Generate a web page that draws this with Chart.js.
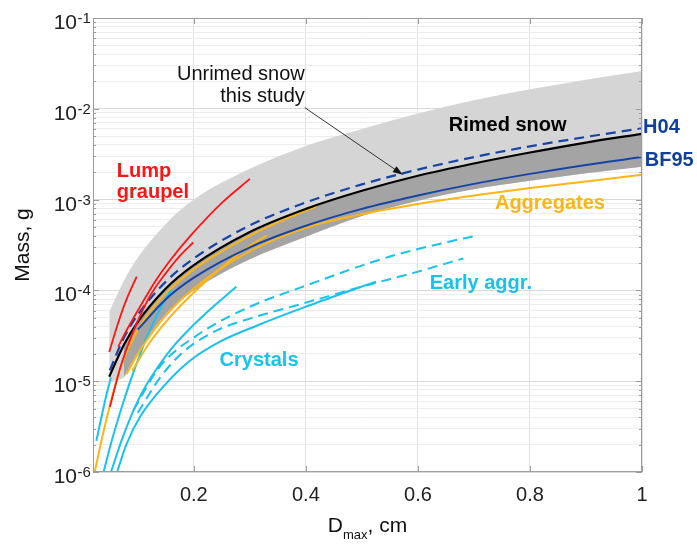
<!DOCTYPE html>
<html>
<head>
<meta charset="utf-8">
<script src="https://cdn.jsdelivr.net/npm/chart.js@4.4.0/dist/chart.umd.min.js"></script>
<style>
  html, body { margin: 0; padding: 0; background: #fff; }
</style>
</head>
<body>
<canvas id="grafico" width="697" height="545"></canvas>
<script>
// ------------------------------ Eixos ------------------------------
const eixoXTicks = [0.2, 0.4, 0.6, 0.8, 1];
const eixoYDecadas = [1e-6, 1e-5, 1e-4, 1e-3, 1e-2, 1e-1];
const eixoYMenores = [2, 3, 4, 5, 6, 7, 8, 9];

// ------------------------------ Dados ------------------------------
// faixa cinza clara
const dFaixa = [0.049, 0.075, 0.1, 0.15, 0.2, 0.3, 0.4, 0.5, 0.6, 0.7, 0.8, 0.9, 1.0];
const faixaSup = [5.8e-5, 1.27e-4, 2.3e-4, 5.4e-4, 1.0e-3, 2.18e-3, 3.9e-3, 6.0e-3, 8.9e-3, 0.0124, 0.0164, 0.0209, 0.026];
const faixaInf = [1.0e-5, 1.1e-5, 2.07e-5, 5.5e-5, 1.0e-4, 2.2e-4, 3.9e-4, 6.6e-4, 9.7e-4, 1.3e-3, 1.61e-3, 1.95e-3, 2.3e-3];

// faixa cinza escura
const dEscura = [0.075, 0.1, 0.15, 0.2, 0.3, 0.4, 0.5, 0.6, 0.7, 0.8, 0.9, 1.0];
const escuraSup = [2.4e-5, 4.4e-5, 1.03e-4, 1.87e-4, 4.35e-4, 7.8e-4, 1.23e-3, 1.8e-3, 2.47e-3, 3.26e-3, 4.2e-3, 5.25e-3];
const escuraInf = [1.1e-5, 2.07e-5, 5.5e-5, 1.0e-4, 2.2e-4, 3.9e-4, 6.6e-4, 9.7e-4, 1.3e-3, 1.61e-3, 1.95e-3, 2.3e-3];

// neve riminada (linha preta)
const dPreta = [0.049, 0.075, 0.1, 0.15, 0.2, 0.3, 0.4, 0.5, 0.6, 0.7, 0.8, 0.9, 1.0];
const mPreta = [1.12e-5, 2.5e-5, 4.5e-5, 1.05e-4, 1.9e-4, 4.4e-4, 7.9e-4, 1.25e-3, 1.83e-3, 2.5e-3, 3.3e-3, 4.25e-3, 5.3e-3];

// H04 (tracejada azul)
const dH04 = [0.05, 0.075, 0.1, 0.15, 0.2, 0.3, 0.4, 0.5, 0.6, 0.7, 0.8, 0.9, 1.0];
const mH04 = [1.32e-5, 3.0e-5, 5.4e-5, 1.25e-4, 2.25e-4, 5.2e-4, 9.3e-4, 1.47e-3, 2.14e-3, 2.94e-3, 3.86e-3, 4.9e-3, 6.1e-3];

// BF95 (azul)
const dBF95 = [0.1, 0.15, 0.2, 0.3, 0.4, 0.5, 0.6, 0.7, 0.8, 0.9, 1.0];
const mBF95 = [3.7e-5, 8.0e-5, 1.38e-4, 2.98e-4, 5.15e-4, 7.9e-4, 1.11e-3, 1.49e-3, 1.92e-3, 2.41e-3, 2.94e-3];

// agregados (laranja)
const dAgregA = [0.023, 0.038, 0.056, 0.068, 0.08, 0.109, 0.145, 0.193, 0.252, 0.3, 0.36, 0.42];
const mAgregA = [1.0e-6, 2.65e-6, 7.45e-6, 1.34e-5, 2.08e-5, 4.53e-5, 8.65e-5, 1.59e-4, 2.75e-4, 4.02e-4, 5.97e-4, 8.51e-4];
const dAgregB = [0.08, 0.1, 0.15, 0.2, 0.3, 0.4, 0.5, 0.6, 0.7, 0.8, 0.9, 1.0];
const mAgregB = [1.2e-5, 2.0e-5, 5.3e-5, 1.05e-4, 2.7e-4, 4.9e-4, 6.9e-4, 8.95e-4, 1.11e-3, 1.34e-3, 1.58e-3, 1.88e-3];
const dAgregC = [0.09, 0.12, 0.16, 0.2, 0.25, 0.3, 0.33];
const mAgregC = [1.3e-5, 2.6e-5, 5.3e-5, 9.5e-5, 1.8e-4, 3.1e-4, 4.0e-4];

// graupel (vermelho)
const dGraupelA = [0.049, 0.065, 0.08, 0.098];
const mGraupelA = [2.1e-5, 4.4e-5, 8.0e-5, 1.42e-4];
const dGraupelB = [0.05, 0.07, 0.09, 0.121, 0.15, 0.175, 0.199];
const mGraupelB = [5.2e-6, 1.5e-5, 3.3e-5, 8.5e-5, 1.55e-4, 2.4e-4, 3.37e-4];
const dGraupelC = [0.065, 0.074, 0.1, 0.133, 0.16, 0.193, 0.25, 0.3];
const mGraupelC = [2.4e-5, 3.1e-5, 6.0e-5, 1.31e-4, 2.23e-4, 3.93e-4, 9.2e-4, 1.69e-3];

// cristais (ciano)
const dCristalA = [0.026, 0.035, 0.045, 0.052];
const mCristalA = [2.2e-6, 4.0e-6, 7.5e-6, 1.1e-5];
const dCristalB = [0.039, 0.05, 0.062, 0.075, 0.086, 0.1, 0.12, 0.14, 0.16];
const mCristalB = [1e-6, 1.85e-6, 3.36e-6, 6.1e-6, 9.77e-6, 1.7e-5, 3.47e-5, 6.3e-5, 1.02e-4];
const dCristalC = [0.052, 0.074, 0.104, 0.133, 0.163, 0.2, 0.223, 0.25, 0.276];
const mCristalC = [1e-6, 2.5e-6, 6.8e-6, 1.35e-5, 2.4e-5, 4.2e-5, 5.7e-5, 8.0e-5, 1.1e-4];
const dCristalD = [0.063, 0.08, 0.104, 0.15, 0.193, 0.25, 0.312, 0.4, 0.49, 0.525];
const mCristalD = [1e-6, 2.04e-6, 4.05e-6, 9.35e-6, 1.68e-5, 2.79e-5, 4.08e-5, 6.62e-5, 1.05e-4, 1.25e-4];

// agregados iniciais (ciano tracejado)
const dIniciaisA = [0.092, 0.139, 0.211, 0.3, 0.395, 0.55, 0.657, 0.7];
const mIniciaisA = [4.8e-6, 1.44e-5, 3.37e-5, 6.6e-5, 1.1e-4, 2.36e-4, 3.46e-4, 3.95e-4];
const dIniciaisB = [0.1, 0.14, 0.181, 0.24, 0.3, 0.4, 0.5, 0.6, 0.681];
const mIniciaisB = [4.5e-6, 1.1e-5, 2.1e-5, 3.6e-5, 4.89e-5, 7.33e-5, 1.1e-4, 1.61e-4, 2.25e-4];

// ------------------------------ Cores ------------------------------
const corVermelho = '#ff1414';
const corCiano = '#17c2ec';
const corLaranja = '#fcb514';
const corAzul = '#1844a6';
const corAzulTexto = '#0f3f9f';

// rótulos: [texto, D, massa, cor, alinhamento, negrito]
const rotulos = [
  ['Lump', 0.0625, 1.79e-3, corVermelho, 'left', true],
  ['graupel', 0.0625, 1.05e-3, corVermelho, 'left', true],
  ['Unrimed snow', 0.398, 2.1e-2, '#111', 'right', false],
  ['this study', 0.398, 1.2e-2, '#111', 'right', false],
  ['Rimed snow', 0.655, 5.75e-3, '#000', 'left', true],
  ['H04', 1.002, 5.47e-3, corAzulTexto, 'left', true],
  ['BF95', 1.005, 2.37e-3, corAzulTexto, 'left', true],
  ['Aggregates', 0.7375, 7.94e-4, corLaranja, 'left', true],
  ['Early aggr.', 0.621, 1.04e-4, corCiano, 'left', true],
  ['Crystals', 0.246, 1.47e-5, corCiano, 'left', true]
];
// seta: início e fim em (D, massa)
const seta = [[0.398, 1.03e-2], [0.573, 1.88e-3]];

const fonte = "'Liberation Sans', Arial, sans-serif";

function pontos(xs, ys) {
  return xs.map((x, i) => ({ x: x, y: ys[i] }));
}

function linha(rotulo, xs, ys, cor, largura, tracejado, ordem) {
  return {
    label: rotulo,
    data: pontos(xs, ys),
    borderColor: cor,
    borderWidth: largura,
    borderDash: tracejado || [],
    pointRadius: 0,
    fill: false,
    cubicInterpolationMode: 'monotone',
    order: ordem
  };
}

function faixa(rotulo, xs, ys, cor, ordem) {
  return {
    label: rotulo,
    data: pontos(xs, ys),
    borderColor: 'rgba(0,0,0,0)',
    borderWidth: 0,
    pointRadius: 0,
    backgroundColor: cor,
    fill: cor ? '+1' : false,
    cubicInterpolationMode: 'monotone',
    order: ordem
  };
}

const tracejado = [10, 6];

const datasets = [
  faixa('faixa clara', dFaixa, faixaSup, '#d5d5d5', 40),
  faixa('faixa clara inf', dFaixa, faixaInf, null, 39),
  faixa('faixa escura', dEscura, escuraSup, '#a4a4a4', 38),
  faixa('faixa escura inf', dEscura, escuraInf, null, 37),
  linha('Cristal A', dCristalA, mCristalA, corCiano, 2, null, 20),
  linha('Cristal B', dCristalB, mCristalB, corCiano, 2, null, 20),
  linha('Cristal C', dCristalC, mCristalC, corCiano, 2, null, 20),
  linha('Cristal D', dCristalD, mCristalD, corCiano, 2, null, 20),
  linha('Early aggr. A', dIniciaisA, mIniciaisA, corCiano, 2, tracejado, 20),
  linha('Early aggr. B', dIniciaisB, mIniciaisB, corCiano, 2, tracejado, 20),
  linha('Agregados A', dAgregA, mAgregA, corLaranja, 2, null, 10),
  linha('Agregados B', dAgregB, mAgregB, corLaranja, 2, null, 10),
  linha('Agregados C', dAgregC, mAgregC, corLaranja, 2, null, 10),
  linha('BF95', dBF95, mBF95, corAzul, 2, null, 5),
  linha('H04', dH04, mH04, corAzul, 2.2, tracejado, 5),
  linha('Rimed snow', dPreta, mPreta, '#000', 2.2, null, 3),
  linha('Graupel A', dGraupelA, mGraupelA, corVermelho, 1.8, null, 2),
  linha('Graupel B', dGraupelB, mGraupelB, corVermelho, 1.8, null, 2),
  linha('Graupel C', dGraupelC, mGraupelC, corVermelho, 1.8, null, 2)
];

function ehDecada(v) {
  const l = Math.log10(v);
  return Math.abs(l - Math.round(l)) < 1e-9;
}

// moldura, marcas, rótulos do eixo y e anotações
const anotacoes = {
  id: 'anotacoes',
  afterDraw(chart) {
    const c = chart.ctx;
    const a = chart.chartArea;
    const sx = chart.scales.x;
    const sy = chart.scales.y;
    c.save();

    // moldura
    c.strokeStyle = '#9c9c9c';
    c.lineWidth = 1;
    c.strokeRect(a.left + 0.5, a.top + 0.5, a.right - a.left - 1, a.bottom - a.top - 1);

    // marcas internas
    c.beginPath();
    sy.ticks.forEach(t => {
      const y = Math.round(sy.getPixelForValue(t.value)) + 0.5;
      const len = ehDecada(t.value) ? 6 : 3;
      c.moveTo(a.left, y); c.lineTo(a.left + len, y);
      c.moveTo(a.right, y); c.lineTo(a.right - len, y);
    });
    sx.ticks.forEach(t => {
      const x = Math.round(sx.getPixelForValue(t.value)) + 0.5;
      c.moveTo(x, a.bottom); c.lineTo(x, a.bottom - 6);
      c.moveTo(x, a.top); c.lineTo(x, a.top + 6);
    });
    c.stroke();

    // rótulos do eixo y: 10 com expoente
    c.fillStyle = '#222';
    c.textBaseline = 'alphabetic';
    eixoYDecadas.forEach(v => {
      const y = sy.getPixelForValue(v);
      const exp = Math.round(Math.log10(v));
      c.font = '21px ' + fonte;
      c.textAlign = 'right';
      c.fillText('10', 77, y + 11);
      c.font = '15px ' + fonte;
      c.textAlign = 'left';
      c.fillText('-' + Math.abs(exp), 77.5, y + 5);
    });

    // título do eixo y
    c.save();
    c.translate(23, (a.top + a.bottom) / 2);
    c.rotate(-Math.PI / 2);
    c.font = '21px ' + fonte;
    c.textAlign = 'center';
    c.textBaseline = 'middle';
    c.fillStyle = '#111';
    c.fillText('Mass, g', 0, 0);
    c.restore();

    // título do eixo x: D_max, cm
    c.fillStyle = '#111';
    c.textAlign = 'left';
    c.font = '21px ' + fonte;
    const wD = c.measureText('D').width;
    const wCm = c.measureText(', cm').width;
    c.font = '13px ' + fonte;
    const wMax = c.measureText('max').width;
    const x0 = (a.left + a.right) / 2 - (wD + wMax + wCm) / 2;
    const base = 532;
    c.font = '21px ' + fonte;
    c.fillText('D', x0, base);
    c.font = '13px ' + fonte;
    c.fillText('max', x0 + wD, base + 7);
    c.font = '21px ' + fonte;
    c.fillText(', cm', x0 + wD + wMax, base);

    // seta
    const xa = sx.getPixelForValue(seta[0][0]), ya = sy.getPixelForValue(seta[0][1]);
    const xb = sx.getPixelForValue(seta[1][0]), yb = sy.getPixelForValue(seta[1][1]);
    const ang = Math.atan2(yb - ya, xb - xa);
    c.strokeStyle = '#333';
    c.lineWidth = 1;
    c.beginPath();
    c.moveTo(xa, ya);
    c.lineTo(xb - 8 * Math.cos(ang), yb - 8 * Math.sin(ang));
    c.stroke();
    c.fillStyle = '#111';
    c.beginPath();
    c.moveTo(xb, yb);
    c.lineTo(xb - 10 * Math.cos(ang) + 3.5 * Math.sin(ang), yb - 10 * Math.sin(ang) - 3.5 * Math.cos(ang));
    c.lineTo(xb - 10 * Math.cos(ang) - 3.5 * Math.sin(ang), yb - 10 * Math.sin(ang) + 3.5 * Math.cos(ang));
    c.closePath();
    c.fill();

    // textos
    rotulos.forEach(r => {
      c.font = (r[5] ? 'bold ' : '') + '20px ' + fonte;
      c.fillStyle = r[3];
      c.textAlign = r[4];
      c.textBaseline = 'alphabetic';
      c.fillText(r[0], sx.getPixelForValue(r[1]), sy.getPixelForValue(r[2]));
    });

    c.restore();
  }
};

const ctx = document.getElementById('grafico').getContext('2d');

const grafico = new Chart(ctx, {
  type: 'line',
  data: { datasets: datasets },
  options: {
    responsive: false,
    animation: false,
    layout: { padding: { top: 18, right: 55, left: 0, bottom: 0 } },
    plugins: {
      legend: { display: false },
      tooltip: { enabled: false }
    },
    scales: {
      x: {
        type: 'linear',
        min: 0.02,
        max: 1,
        afterBuildTicks: scale => { scale.ticks = eixoXTicks.map(v => ({ value: v })); },
        afterFit: scale => { scale.height = 73; },
        border: { display: false },
        grid: { color: '#e2e2e2', drawTicks: false },
        ticks: {
          autoSkip: false,
          maxRotation: 0,
          padding: 11,
          color: '#222',
          font: { size: 20, family: fonte },
          callback: v => String(v)
        }
      },
      y: {
        type: 'logarithmic',
        min: 1e-6,
        max: 1e-1,
        afterBuildTicks: scale => {
          const t = [];
          eixoYDecadas.forEach(d => {
            t.push({ value: d });
            if (d < 1e-1) eixoYMenores.forEach(k => t.push({ value: k * d }));
          });
          scale.ticks = t;
        },
        afterFit: scale => { scale.width = 93; },
        border: { display: false },
        grid: {
          drawTicks: false,
          color: c => (c.tick && ehDecada(c.tick.value)) ? '#d9d9d9' : '#ededed'
        },
        ticks: { display: false }
      }
    }
  },
  plugins: [anotacoes]
});
</script>
</body>
</html>
